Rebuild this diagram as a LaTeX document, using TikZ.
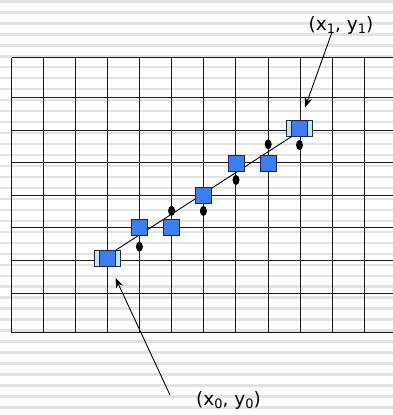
\documentclass[tikz,border=0pt]{standalone}
\usepackage{fontspec}
\setmainfont{DejaVu Sans}
\usetikzlibrary{arrows.meta,shapes.geometric}
\definecolor{stripe}{HTML}{E2E2E2}
\definecolor{sqblue}{HTML}{3D7CF2}
\definecolor{sqedge}{HTML}{1A2550}
\definecolor{endcyan}{HTML}{C6E6EA}
\newcommand{\lowsub}[1]{\raisebox{-0.3ex}{\fontsize{13pt}{13pt}\selectfont #1}}
\tikzset{
  gridline/.style={line width=1.3pt, black!90},
  pix/.style={rectangle, minimum width=16pt, minimum height=16pt, inner sep=0pt, fill=sqblue, draw=sqedge, line width=0.8pt},
  endpix/.style={rectangle, minimum width=26.5pt, minimum height=16pt, inner sep=0pt, fill=endcyan, draw=sqedge, line width=0.8pt},
  dot/.style={ellipse, minimum width=7pt, minimum height=10pt, inner sep=0pt, fill=black},
  lab/.style={font=\fontsize{18.5pt}{22pt}\selectfont, inner sep=0pt, anchor=base},
  pointer/.style={line width=0.9pt, -{Stealth[length=10pt,width=7.5pt]}}
}
\begin{document}
\begin{tikzpicture}[x=1pt,y=-1pt]
\useasboundingbox (0,0) rectangle (393,415);
\fill[white] (0,0) rectangle (393,415);
% background stripes
\foreach \k in {0,...,37} {
  \fill[stripe] (0,{10.98*\k}) rectangle (393,{10.98*\k+2.6});
}
% grid
\foreach \x in {11.5,43.5,75.5,107.5,139.5,171.5,203.5,235.5,268.5,300.5,332.5,364.5} {
  \draw[gridline] (\x,57.5) -- (\x,332.5);
}
\foreach \y in {57.5,97.5,130.5,162.5,195.5,227.5,260.5,293.5,332.5} {
  \draw[gridline] (11.5,\y) -- (393,\y);
}
% end markers
\node[endpix] (startbox) at (107.5,258.5) {};
\node[endpix] (endbox) at (299.5,128.5) {};
\node[pix] (start) at (107.5,258.5) {};
\node[pix] (end) at (299.5,128.5) {};
% ideal line
\draw[line width=0.9pt, black] (start.north east) -- (end.south west);
% pixels
\node[pix] (s1) at (139.5,227.7) {};
\node[pix] (s2) at (171.6,227.7) {};
\node[pix] (s3) at (203.5,195) {};
\node[pix] (s4) at (236,163) {};
\node[pix] (s5) at (268,163) {};
% dots
\node[dot] (d1) at (139.4,246.7) {};
\node[dot] (d2) at (171.6,210.8) {};
\node[dot] (d3) at (203.4,211) {};
\node[dot] (d4) at (236,180) {};
\node[dot] (d5) at (268.2,144.3) {};
\node[dot] (d6) at (299.5,145) {};
% labels
\node[lab] (l1) at (341,30) {(x\lowsub{1}, y\lowsub{1})};
\node[lab] (l0) at (228.5,405.5) {(x\lowsub{0}, y\lowsub{0})};
\coordinate (t1) at (331.7,33);
\coordinate (h1) at (305,107.5);
\coordinate (t0) at (170,395);
\coordinate (h0) at (115.5,278);
\draw[pointer] (t1) -- (h1);
\draw[pointer] (t0) -- (h0);
\end{tikzpicture}
\end{document}
